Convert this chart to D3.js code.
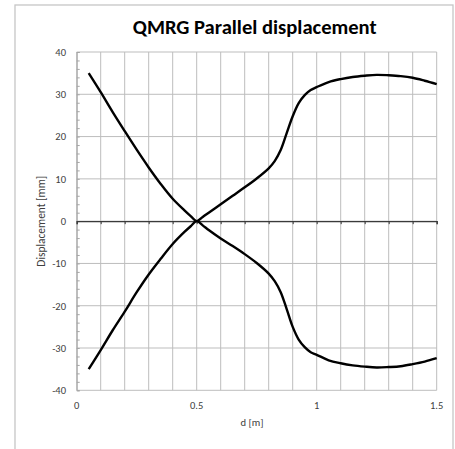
<!DOCTYPE html>
<html>
<head>
<meta charset="utf-8">
<script src="https://cdn.jsdelivr.net/npm/d3@7/dist/d3.min.js"></script>
<style>
  html, body { margin: 0; padding: 0; background: #ffffff; }
  svg { display: block; }
  text { font-family: Carlito, Lato, "Open Sans", sans-serif; }
</style>
</head>
<body>
<svg id="chart" width="455" height="449"></svg>
<script>
// Distance along the guide [m]
const distance = [0.05, 0.1, 0.15, 0.2, 0.25, 0.3, 0.35, 0.4, 0.45, 0.475,
                  0.5, 0.525, 0.55, 0.6, 0.65, 0.7, 0.75, 0.8, 0.825, 0.85,
                  0.875, 0.9, 0.925, 0.95, 0.975, 1.0, 1.05, 1.1, 1.15, 1.2,
                  1.25, 1.3, 1.35, 1.4, 1.45, 1.5];
// Parallel displacement of the upper branch [mm]
const upperBranch = [35.0, 30.5, 25.8, 21.3, 16.9, 12.7, 8.8, 5.3, 2.5, 1.2,
                     0.0, 1.0, 2.0, 4.0, 6.0, 8.0, 10.1, 12.5, 14.2, 16.8,
                     20.8, 24.8, 27.9, 29.8, 31.0, 31.7, 32.9, 33.6, 34.1, 34.4,
                     34.6, 34.5, 34.3, 33.9, 33.2, 32.4];
// Parallel displacement of the lower branch [mm]
const lowerBranch = [-35.0, -30.5, -25.8, -21.4, -16.8, -12.6, -8.9, -5.4, -2.5, -1.2,
                     0.0, -1.0, -2.1, -4.1, -5.9, -7.8, -9.9, -12.4, -14.2, -16.8,
                     -20.8, -25.0, -28.0, -29.8, -31.0, -31.6, -32.9, -33.6, -34.1, -34.4,
                     -34.6, -34.5, -34.3, -33.8, -33.2, -32.4];
const xTickLabels = [0, 0.5, 1, 1.5];
const yTickLabels = [-40, -30, -20, -10, 0, 10, 20, 30, 40];

const svg = d3.select("#chart");
const plot = { left: 76.7, right: 436.7, top: 52, bottom: 390.3 };

const x = d3.scaleLinear().domain([0, 1.5]).range([plot.left, plot.right]);
const y = d3.scaleLinear().domain([-40, 40]).range([plot.bottom, plot.top]);

// Scale a text element's font so that it spans the wanted width
function fitWidth(sel, width) {
  const fs = +sel.attr("font-size");
  const w = sel.node().getComputedTextLength();
  if (w > 0) sel.attr("font-size", (fs * width / w).toFixed(2));
  return sel;
}

// Chart frame
svg.append("rect")
  .attr("x", 15).attr("y", 5).attr("width", 438).attr("height", 460)
  .attr("fill", "#ffffff").attr("stroke", "#c6c6c6").attr("stroke-width", 1.3);

// Title
fitWidth(svg.append("text")
  .attr("x", 254.7).attr("y", 33.5)
  .attr("text-anchor", "middle")
  .attr("font-size", 18).attr("font-weight", "bold").attr("fill", "#000")
  .text("QMRG Parallel displacement"), 244);

// Gridlines
const gx = d3.range(0, 15.5, 1).map(i => i / 10);
svg.append("g").selectAll("line").data(gx).join("line")
  .attr("x1", d => x(d)).attr("x2", d => x(d))
  .attr("y1", plot.top).attr("y2", plot.bottom)
  .attr("stroke", "#bdbdbd").attr("stroke-width", 1);
svg.append("g").selectAll("line").data(yTickLabels).join("line")
  .attr("x1", plot.left).attr("x2", plot.right)
  .attr("y1", d => y(d)).attr("y2", d => y(d))
  .attr("stroke", "#bdbdbd").attr("stroke-width", 1);

// Y axis with minor ticks pointing into the plot
const yAxis = d3.axisRight(y)
  .tickValues(d3.range(-40, 41, 2))
  .tickSize(3).tickFormat("");
const yg = svg.append("g").attr("transform", `translate(${plot.left},0)`).call(yAxis);
yg.select(".domain").attr("stroke", "#a6a6a6");
yg.selectAll(".tick line").attr("stroke", "#a6a6a6");

// Y tick labels
svg.append("g").selectAll("text").data(yTickLabels).join("text")
  .attr("x", 66).attr("y", d => y(d) + 3.8)
  .attr("text-anchor", "end").attr("font-size", 10.5).attr("fill", "#404040")
  .text(d => d);

// Horizontal axis at zero
const xAxis = d3.axisBottom(x).tickValues(gx).tickSize(3).tickFormat("");
const xg = svg.append("g").attr("transform", `translate(0,${y(0)})`).call(xAxis);
xg.select(".domain").attr("stroke", "#3a3a3a").attr("stroke-width", 1.3);
xg.selectAll(".tick line").attr("stroke", "#3a3a3a");

// X tick labels under the plot
svg.append("g").selectAll("text").data(xTickLabels).join("text")
  .attr("x", d => x(d)).attr("y", 409)
  .attr("text-anchor", "middle").attr("font-size", 10.5).attr("fill", "#404040")
  .text(d => d);

// Axis titles
fitWidth(svg.append("text")
  .attr("x", 252).attr("y", 426)
  .attr("text-anchor", "middle").attr("font-size", 10).attr("fill", "#404040")
  .text("d [m]"), 23);
fitWidth(svg.append("text")
  .attr("transform", `translate(45,${(plot.top + plot.bottom) / 2}) rotate(-90)`)
  .attr("text-anchor", "middle").attr("font-size", 10).attr("fill", "#404040")
  .text("Displacement [mm]"), 91);

// Displacement curves
const line = d3.line()
  .x(d => x(d[0])).y(d => y(d[1]))
  .curve(d3.curveCatmullRom.alpha(0.5));

[upperBranch, lowerBranch].forEach(series => {
  svg.append("path")
    .datum(distance.map((d, i) => [d, series[i]]))
    .attr("d", line)
    .attr("fill", "none").attr("stroke", "#000").attr("stroke-width", 2.4)
    .attr("stroke-linejoin", "round");
});
</script>
</body>
</html>
